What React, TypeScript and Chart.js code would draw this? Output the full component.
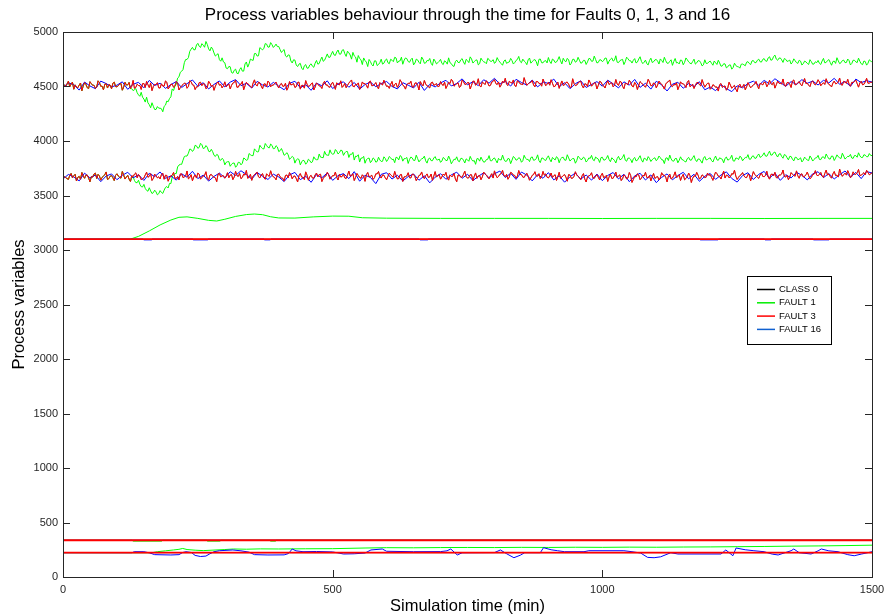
import { useEffect, useRef } from 'react';
import { Chart, registerables } from 'chart.js';

Chart.register(...registerables);

// ---- sampling grids (minutes) ----
// noisy variables are logged every 2.5 min: "main" samples at 0, 5, 10 ... and "half" samples at 2.5, 7.5 ...
const minutes5 = Array.from({ length: 301 }, (_, i) => i * 5);
const minutesHalf = Array.from({ length: 300 }, (_, i) => i * 5 + 2.5);
const minutes10 = Array.from({ length: 151 }, (_, i) => i * 10);

// ---- upper process variable (~4510) ----
const fault3Upper = [
  4530, 4500, 4549, 4523, 4475, 4496, 4513, 4461, 4536, 4489, 4544, 4511, 4483, 4552, 4502, 4470, 4525, 4517, 4479, 4540,
  4497, 4522, 4466, 4538, 4515, 4481, 4556, 4492, 4509, 4473, 4528, 4547, 4490, 4462, 4519, 4535, 4486, 4504, 4551, 4477,
  4520, 4493, 4545, 4468, 4507, 4531, 4484, 4553, 4515, 4472, 4498, 4539, 4526, 4480, 4548, 4501, 4465, 4529, 4512, 4487,
  4543, 4509, 4478, 4532, 4557, 4494, 4521, 4470, 4538, 4516, 4488, 4561, 4505, 4533, 4479, 4524, 4550, 4497, 4512, 4541,
  4486, 4528, 4503, 4466, 4545, 4519, 4491, 4537, 4476, 4511, 4554, 4499, 4524, 4468, 4533, 4507, 4482, 4548, 4515, 4493,
  4539, 4474, 4520, 4552, 4505, 4489, 4531, 4560, 4497, 4516, 4473, 4542, 4527, 4485, 4550, 4509, 4536, 4478, 4523, 4557,
  4501, 4483, 4546, 4519, 4492, 4562, 4512, 4476, 4529, 4548, 4495, 4534, 4468, 4521, 4555, 4506, 4487, 4540, 4517, 4499,
  4545, 4510, 4482, 4538, 4566, 4503, 4527, 4491, 4559, 4520, 4536, 4477, 4548, 4512, 4571, 4496, 4531, 4553, 4505, 4541,
  4563, 4518, 4494, 4549, 4575, 4509, 4537, 4560, 4500, 4543, 4521, 4581, 4512, 4535, 4556, 4497, 4546, 4528, 4568, 4507,
  4539, 4562, 4498, 4525, 4483, 4551, 4516, 4540, 4490, 4571, 4508, 4530, 4549, 4486, 4522, 4560, 4503, 4535, 4478, 4547,
  4515, 4486, 4553, 4529, 4497, 4564, 4510, 4541, 4480, 4526, 4558, 4504, 4537, 4472, 4545, 4519, 4493, 4566, 4507, 4532,
  4488, 4549, 4521, 4476, 4538, 4560, 4499, 4514, 4471, 4543, 4526, 4490, 4555, 4508, 4482, 4535, 4517, 4563, 4494, 4529,
  4475, 4516, 4493, 4458, 4527, 4501, 4466, 4539, 4484, 4510, 4452, 4521, 4497, 4470, 4535, 4488, 4514, 4546, 4479, 4524,
  4540, 4498, 4557, 4516, 4485, 4549, 4528, 4569, 4503, 4537, 4491, 4560, 4522, 4545, 4506, 4573, 4531, 4499, 4552, 4515,
  4562, 4507, 4534, 4571, 4519, 4496, 4550, 4528, 4578, 4512, 4541, 4566, 4503, 4537, 4559, 4494, 4548, 4520, 4575, 4531,
  4539,
];
const fault3UpperHalf = [
  4510, 4523, 4497, 4540, 4515, 4489, 4532, 4506, 4519, 4481, 4527, 4511, 4494, 4536, 4503, 4520, 4486, 4512, 4530, 4499,
  4507, 4528, 4495, 4514, 4537, 4502, 4483, 4521, 4509, 4526, 4491, 4516, 4533, 4500, 4518, 4487, 4525, 4504, 4539, 4496,
  4521, 4505, 4533, 4490, 4517, 4528, 4501, 4544, 4512, 4497, 4535, 4508, 4522, 4489, 4530, 4514, 4503, 4541, 4519, 4506,
  4498, 4524, 4511, 4537, 4493, 4518, 4546, 4507, 4525, 4500, 4532, 4515, 4539, 4504, 4523, 4497, 4536, 4512, 4529, 4509,
  4517, 4502, 4530, 4491, 4514, 4527, 4499, 4540, 4510, 4485, 4521, 4506, 4533, 4495, 4519, 4502, 4528, 4513, 4496, 4524,
  4509, 4534, 4515, 4492, 4528, 4511, 4546, 4502, 4520, 4533, 4497, 4525, 4510, 4542, 4507, 4518, 4501, 4536, 4514, 4527,
  4505, 4520, 4494, 4531, 4513, 4540, 4503, 4517, 4526, 4495, 4530, 4512, 4545, 4506, 4522, 4498, 4534, 4511, 4527, 4502,
  4519, 4540, 4508, 4527, 4551, 4514, 4533, 4503, 4545, 4520, 4535, 4512, 4549, 4524, 4506, 4541, 4518, 4532, 4510, 4547,
  4527, 4542, 4515, 4534, 4520, 4548, 4531, 4509, 4553, 4525, 4517, 4540, 4522, 4537, 4514, 4546, 4528, 4503, 4538, 4521,
  4512, 4530, 4503, 4541, 4519, 4509, 4537, 4521, 4495, 4528, 4513, 4544, 4507, 4525, 4500, 4536, 4518, 4529, 4511, 4541,
  4506, 4526, 4518, 4535, 4511, 4523, 4547, 4502, 4529, 4516, 4538, 4497, 4521, 4512, 4533, 4506, 4524, 4540, 4509, 4527,
  4514, 4530, 4501, 4522, 4545, 4508, 4519, 4534, 4503, 4526, 4512, 4539, 4498, 4521, 4510, 4537, 4505, 4525, 4514, 4531,
  4488, 4509, 4496, 4517, 4492, 4505, 4485, 4512, 4499, 4475, 4506, 4491, 4519, 4497, 4511, 4502, 4522, 4508, 4528, 4515,
  4537, 4519, 4528, 4541, 4516, 4530, 4523, 4509, 4535, 4521, 4550, 4514, 4533, 4520, 4543, 4527, 4512, 4539, 4525, 4532,
  4541, 4524, 4519, 4536, 4512, 4531, 4525, 4543, 4518, 4547, 4529, 4521, 4538, 4545, 4526, 4533, 4516, 4542, 4530, 4539,
];

const fault1Upper = [
  4530, 4500, 4549, 4523, 4475, 4496, 4513, 4461, 4536, 4489, 4544, 4511, 4483, 4552, 4502, 4470, 4525, 4517, 4479, 4540,
  4497, 4522, 4466, 4538, 4515, 4481, 4462, 4481, 4423, 4447, 4385, 4402, 4333, 4351, 4289, 4316, 4301, 4268, 4329, 4360,
  4405, 4463, 4521, 4589, 4640, 4719, 4748, 4822, 4859, 4837, 4896, 4858, 4879, 4913, 4845, 4862, 4808, 4791, 4746, 4763,
  4718, 4663, 4681, 4622, 4659, 4618, 4673, 4641, 4725, 4708, 4744, 4802, 4779, 4857, 4836, 4894, 4861, 4903, 4858, 4889,
  4867, 4812, 4839, 4770, 4787, 4716, 4742, 4683, 4712, 4654, 4701, 4669, 4708, 4676, 4739, 4711, 4770, 4741, 4799, 4768,
  4822, 4785, 4835, 4797, 4838, 4776, 4809, 4751, 4781, 4723, 4757, 4701, 4738, 4683, 4729, 4688, 4735, 4702, 4751, 4714,
  4753, 4709, 4741, 4768, 4716, 4735, 4704, 4762, 4729, 4747, 4698, 4751, 4722, 4770, 4713, 4739, 4757, 4694, 4733, 4718,
  4749, 4701, 4726, 4763, 4710, 4684, 4742, 4719, 4756, 4703, 4737, 4772, 4715, 4741, 4698, 4760, 4727, 4709, 4748, 4731,
  4712, 4765, 4724, 4695, 4744, 4721, 4758, 4706, 4739, 4776, 4718, 4734, 4700, 4761, 4729, 4747, 4690, 4752, 4717, 4738,
  4766, 4711, 4743, 4725, 4774, 4707, 4736, 4758, 4697, 4749, 4723, 4768, 4714, 4740, 4702, 4757, 4731, 4779, 4716, 4745,
  4728, 4761, 4705, 4750, 4733, 4782, 4719, 4744, 4701, 4769, 4737, 4715, 4756, 4724, 4773, 4710, 4742, 4698, 4760, 4727,
  4748, 4706, 4739, 4768, 4714, 4731, 4694, 4757, 4720, 4743, 4699, 4762, 4726, 4708, 4751, 4717, 4736, 4689, 4745, 4712,
  4733, 4695, 4718, 4741, 4686, 4709, 4671, 4697, 4659, 4714, 4683, 4668, 4706, 4690, 4728, 4701, 4738, 4719, 4751, 4724,
  4756, 4731, 4773, 4745, 4788, 4740, 4762, 4721, 4749, 4735, 4706, 4754, 4719, 4741, 4697, 4733, 4712, 4746, 4704, 4727,
  4739, 4702, 4758, 4721, 4747, 4695, 4733, 4764, 4710, 4738, 4719, 4752, 4698, 4741, 4726, 4760, 4708, 4734, 4696, 4745,
  4722,
];
const fault1UpperHalf = [
  4510, 4523, 4497, 4540, 4515, 4489, 4532, 4506, 4519, 4481, 4527, 4511, 4494, 4536, 4503, 4520, 4486, 4512, 4530, 4499,
  4507, 4528, 4495, 4514, 4537, 4480, 4471, 4443, 4410, 4402, 4357, 4350, 4305, 4318, 4289, 4301, 4296, 4318, 4367, 4390,
  4478, 4503, 4577, 4630, 4655, 4748, 4765, 4842, 4837, 4881, 4869, 4893, 4860, 4886, 4827, 4843, 4779, 4801, 4732, 4725,
  4669, 4684, 4628, 4649, 4621, 4655, 4641, 4707, 4678, 4752, 4739, 4803, 4782, 4846, 4851, 4889, 4862, 4884, 4871, 4866,
  4839, 4829, 4781, 4790, 4734, 4745, 4696, 4705, 4669, 4690, 4668, 4697, 4686, 4714, 4705, 4744, 4731, 4769, 4768, 4797,
  4790, 4816, 4797, 4832, 4801, 4824, 4789, 4813, 4770, 4784, 4745, 4762, 4724, 4748, 4701, 4735, 4692, 4719, 4705, 4741,
  4718, 4750, 4728, 4762, 4733, 4769, 4741, 4756, 4722, 4760, 4715, 4744, 4708, 4751, 4716, 4735, 4713, 4752, 4707, 4731,
  4712, 4736, 4705, 4719, 4690, 4728, 4721, 4744, 4725, 4749, 4719, 4753, 4728, 4744, 4710, 4739, 4722, 4758, 4731, 4746,
  4725, 4740, 4709, 4733, 4712, 4725, 4738, 4719, 4748, 4730, 4751, 4722, 4745, 4714, 4741, 4727, 4749, 4718, 4734, 4716,
  4729, 4752, 4720, 4746, 4735, 4759, 4727, 4744, 4713, 4750, 4731, 4741, 4718, 4739, 4726, 4755, 4733, 4748, 4721, 4744,
  4738, 4759, 4733, 4762, 4741, 4723, 4737, 4749, 4728, 4755, 4736, 4741, 4716, 4752, 4730, 4723, 4709, 4738, 4720, 4744,
  4732, 4753, 4720, 4737, 4713, 4745, 4729, 4716, 4707, 4739, 4722, 4746, 4714, 4729, 4705, 4737, 4718, 4699, 4712, 4726,
  4713, 4734, 4702, 4716, 4689, 4707, 4680, 4698, 4674, 4692, 4681, 4704, 4699, 4723, 4711, 4735, 4719, 4741, 4727, 4749,
  4735, 4762, 4741, 4774, 4752, 4760, 4744, 4757, 4730, 4742, 4722, 4736, 4712, 4733, 4709, 4726, 4702, 4728, 4707, 4719,
  4713, 4734, 4717, 4738, 4721, 4729, 4712, 4735, 4718, 4742, 4720, 4737, 4711, 4740, 4719, 4731, 4700, 4729, 4713, 4735,
];

const fault16Upper = [
  4492, 4533, 4518, 4467, 4541, 4505, 4480, 4549, 4527, 4496, 4512, 4543, 4474, 4521, 4538, 4488, 4556, 4509, 4530, 4483,
  4517, 4545, 4491, 4526, 4560, 4502, 4535, 4478, 4519, 4551, 4497, 4540, 4563, 4508, 4529, 4486, 4547, 4514, 4495, 4538,
  4503, 4470, 4529, 4548, 4489, 4516, 4465, 4531, 4506, 4552, 4481, 4524, 4543, 4493, 4537, 4476, 4518, 4540, 4498, 4527,
  4546, 4501, 4478, 4535, 4512, 4487, 4539, 4464, 4520, 4496, 4533, 4557, 4505, 4528, 4570, 4515, 4544, 4508, 4562, 4531,
  4575, 4522, 4548, 4504, 4566, 4537, 4513, 4559, 4496, 4541, 4528, 4568, 4499, 4535, 4480, 4526, 4552, 4491, 4519, 4545,
  4503, 4558, 4524, 4487, 4543, 4512, 4565, 4492, 4530, 4476, 4548, 4515, 4459, 4521, 4539, 4484, 4527, 4498, 4544, 4470,
  4495, 4462, 4517, 4481, 4453, 4506, 4488, 4528, 4549, 4510, 4556, 4523, 4571, 4537, 4502, 4545, 4518, 4563, 4529, 4550,
  4514, 4557, 4533, 4575, 4520, 4546, 4502, 4568, 4536, 4553,
  4541,
];

// ---- middle process variable (~3670) ----
const fault3Middle = [
  3690, 3664, 3648, 3702, 3681, 3633, 3675, 3711, 3658, 3687, 3626, 3669, 3705, 3694, 3641, 3678, 3716, 3655, 3683, 3637,
  3699, 3667, 3720, 3651, 3684, 3629, 3673, 3708, 3692, 3645, 3660, 3714, 3676, 3638, 3696, 3662, 3652, 3705, 3686, 3631,
  3680, 3712, 3657, 3643, 3698, 3671, 3725, 3664, 3635, 3689, 3706, 3650, 3677, 3718, 3642, 3693, 3668, 3627, 3701, 3683,
  3659, 3709, 3687, 3646, 3722, 3675, 3654, 3697, 3730, 3668, 3639, 3690, 3713, 3662, 3700, 3649, 3684, 3727, 3671, 3644,
  3696, 3661, 3632, 3688, 3710, 3653, 3679, 3624, 3701, 3667, 3717, 3640, 3685, 3658, 3706, 3692, 3628, 3674, 3712, 3650,
  3683, 3715, 3642, 3670, 3697, 3656, 3724, 3681, 3637, 3702, 3665, 3690, 3630, 3711, 3676, 3648, 3699, 3720, 3660, 3686,
  3644, 3705, 3678, 3721, 3652, 3690, 3629, 3673, 3709, 3661, 3694, 3636, 3684, 3716, 3655, 3698, 3670, 3639, 3719, 3682,
  3650, 3697, 3712, 3641, 3675, 3703, 3626, 3686, 3668, 3723, 3659, 3691, 3634, 3707, 3679, 3645, 3715, 3688, 3653, 3700,
  3726, 3663, 3695, 3731, 3674, 3649, 3712, 3687, 3658, 3729, 3692, 3666, 3704, 3640, 3685, 3718, 3677, 3655, 3721, 3698,
  3661, 3706, 3682, 3638, 3713, 3670, 3692, 3631, 3687, 3659, 3718, 3675, 3646, 3701, 3624, 3680, 3709, 3657, 3691, 3643,
  3704, 3672, 3629, 3696, 3658, 3715, 3681, 3637, 3690, 3652, 3711, 3620, 3677, 3699, 3645, 3685, 3713, 3663, 3634, 3702,
  3668, 3643, 3709, 3686, 3625, 3697, 3660, 3717, 3673, 3638, 3694, 3656, 3706, 3619, 3681, 3712, 3650, 3689, 3663, 3705,
  3692, 3639, 3715, 3677, 3651, 3724, 3687, 3662, 3701, 3732, 3647, 3683, 3710, 3666, 3694, 3635, 3719, 3680, 3657, 3706,
  3673, 3722, 3650, 3697, 3713, 3661, 3688, 3734, 3669, 3645, 3710, 3684, 3726, 3658, 3699, 3676, 3715, 3654, 3693, 3728,
  3681, 3711, 3666, 3733, 3698, 3659, 3720, 3687, 3742, 3676, 3705, 3728, 3663, 3717, 3694, 3739, 3685, 3709, 3731, 3690,
  3712,
];
const fault3MiddleHalf = [
  3670, 3655, 3683, 3662, 3694, 3667, 3650, 3679, 3688, 3661, 3673, 3697, 3656, 3680, 3666, 3690, 3647, 3677, 3664, 3685,
  3678, 3659, 3687, 3670, 3651, 3682, 3696, 3663, 3676, 3653, 3689, 3668, 3700, 3657, 3681, 3672, 3692, 3649, 3684, 3661,
  3686, 3658, 3675, 3698, 3664, 3680, 3653, 3691, 3671, 3660, 3695, 3667, 3684, 3654, 3688, 3676, 3662, 3697, 3669, 3681,
  3677, 3663, 3692, 3670, 3683, 3702, 3666, 3687, 3658, 3694, 3679, 3705, 3671, 3690, 3662, 3699, 3676, 3688, 3665, 3693,
  3672, 3658, 3684, 3663, 3691, 3677, 3655, 3682, 3669, 3646, 3686, 3674, 3660, 3689, 3671, 3695, 3657, 3680, 3692, 3666,
  3681, 3668, 3693, 3674, 3661, 3687, 3679, 3700, 3666, 3684, 3658, 3677, 3691, 3670, 3686, 3663, 3698, 3675, 3689, 3662,
  3676, 3690, 3667, 3684, 3655, 3693, 3671, 3680, 3663, 3696, 3674, 3659, 3688, 3670, 3682, 3664, 3697, 3678, 3669, 3691,
  3670, 3684, 3661, 3689, 3676, 3652, 3687, 3668, 3694, 3673, 3664, 3690, 3677, 3657, 3685, 3671, 3699, 3667, 3682, 3660,
  3688, 3675, 3701, 3682, 3694, 3670, 3705, 3684, 3678, 3693, 3669, 3688, 3675, 3661, 3692, 3680, 3700, 3673, 3686, 3668,
  3679, 3665, 3690, 3672, 3658, 3683, 3669, 3692, 3657, 3676, 3688, 3664, 3681, 3650, 3671, 3686, 3662, 3678, 3667, 3684,
  3663, 3685, 3670, 3657, 3682, 3666, 3689, 3654, 3677, 3661, 3684, 3647, 3670, 3688, 3659, 3679, 3665, 3683, 3671, 3656,
  3674, 3661, 3687, 3669, 3679, 3652, 3683, 3666, 3690, 3673, 3644, 3671, 3682, 3658, 3677, 3686, 3663, 3680, 3668, 3685,
  3666, 3681, 3700, 3674, 3689, 3660, 3684, 3672, 3695, 3678, 3667, 3691, 3681, 3664, 3688, 3676, 3694, 3669, 3687, 3675,
  3683, 3670, 3692, 3679, 3664, 3688, 3697, 3675, 3686, 3668, 3694, 3677, 3680, 3693, 3671, 3690, 3682, 3665, 3695, 3687,
  3695, 3679, 3702, 3688, 3674, 3698, 3683, 3669, 3704, 3692, 3687, 3700, 3676, 3695, 3708, 3684, 3699, 3690, 3712, 3697,
];

const fault1Middle = [
  3690, 3664, 3648, 3702, 3681, 3633, 3675, 3711, 3658, 3687, 3626, 3669, 3705, 3694, 3641, 3678, 3716, 3655, 3683, 3637,
  3699, 3667, 3720, 3651, 3684, 3629, 3672, 3618, 3640, 3581, 3602, 3547, 3571, 3518, 3549, 3506, 3545, 3519, 3574, 3569,
  3609, 3688, 3701, 3779, 3786, 3858, 3862, 3926, 3904, 3961, 3933, 3979, 3931, 3958, 3906, 3924, 3869, 3877, 3828, 3841,
  3781, 3810, 3768, 3797, 3759, 3805, 3781, 3844, 3822, 3885, 3866, 3928, 3899, 3961, 3930, 3977, 3941, 3972, 3929, 3957,
  3903, 3931, 3869, 3893, 3831, 3858, 3797, 3836, 3781, 3824, 3787, 3833, 3801, 3855, 3828, 3881, 3849, 3905, 3870, 3919,
  3879, 3922, 3881, 3916, 3868, 3904, 3849, 3877, 3825, 3858, 3807, 3843, 3796, 3839, 3801, 3845, 3806, 3851, 3812, 3855,
  3812, 3858, 3829, 3801, 3847, 3866, 3815, 3839, 3794, 3853, 3822, 3870, 3808, 3836, 3861, 3797, 3844, 3819, 3857, 3826,
  3804, 3849, 3820, 3862, 3791, 3833, 3855, 3810, 3841, 3798, 3827, 3859, 3815, 3786, 3838, 3852, 3806, 3830, 3866, 3818,
  3845, 3799, 3828, 3871, 3813, 3840, 3792, 3858, 3824, 3847, 3805, 3869, 3831, 3811, 3854, 3826, 3873, 3802, 3843, 3821,
  3864, 3809, 3837, 3856, 3800, 3848, 3825, 3874, 3816, 3839, 3796, 3861, 3830, 3852, 3807, 3845, 3868, 3819, 3842, 3803,
  3851, 3826, 3867, 3810, 3835, 3798, 3859, 3832, 3876, 3814, 3843, 3801, 3849, 3823, 3865, 3806, 3838, 3857, 3812, 3840,
  3819, 3862, 3828, 3793, 3846, 3871, 3817, 3839, 3800, 3855, 3827, 3808, 3850, 3824, 3866, 3811, 3835, 3797, 3858, 3830,
  3845, 3807, 3862, 3823, 3838, 3800, 3853, 3829, 3869, 3815, 3842, 3860, 3818, 3848, 3875, 3833, 3864, 3842, 3881, 3856,
  3892, 3860, 3907, 3872, 3899, 3853, 3884, 3842, 3869, 3827, 3858, 3817, 3849, 3834, 3808, 3852, 3825, 3863, 3816, 3845,
  3868, 3829, 3855, 3881, 3837, 3862, 3821, 3873, 3846, 3888, 3834, 3859, 3877, 3840, 3866, 3892, 3849, 3874, 3856, 3885,
  3866,
];
const fault1MiddleHalf = [
  3670, 3655, 3683, 3662, 3694, 3667, 3650, 3679, 3688, 3661, 3673, 3697, 3656, 3680, 3666, 3690, 3647, 3677, 3664, 3685,
  3678, 3659, 3687, 3670, 3651, 3660, 3638, 3618, 3603, 3578, 3565, 3539, 3542, 3526, 3533, 3517, 3528, 3549, 3582, 3611,
  3671, 3702, 3762, 3786, 3824, 3862, 3888, 3923, 3920, 3955, 3941, 3966, 3935, 3943, 3901, 3902, 3858, 3869, 3823, 3829,
  3804, 3811, 3786, 3798, 3774, 3803, 3796, 3837, 3829, 3874, 3866, 3913, 3902, 3942, 3927, 3959, 3937, 3960, 3931, 3945,
  3911, 3902, 3877, 3873, 3846, 3849, 3826, 3831, 3808, 3818, 3802, 3821, 3809, 3835, 3829, 3852, 3847, 3875, 3868, 3888,
  3883, 3907, 3893, 3912, 3891, 3903, 3879, 3896, 3861, 3874, 3843, 3859, 3829, 3844, 3817, 3834, 3812, 3826, 3814, 3840,
  3830, 3846, 3833, 3851, 3826, 3857, 3838, 3849, 3831, 3845, 3822, 3839, 3825, 3842, 3818, 3836, 3820, 3844, 3828, 3835,
  3817, 3839, 3822, 3834, 3812, 3829, 3818, 3840, 3824, 3836, 3814, 3831, 3821, 3838, 3815, 3827, 3809, 3832, 3819, 3837,
  3822, 3841, 3826, 3833, 3815, 3836, 3824, 3847, 3829, 3840, 3818, 3842, 3831, 3848, 3823, 3839, 3820, 3843, 3827, 3846,
  3831, 3849, 3826, 3844, 3836, 3851, 3823, 3845, 3830, 3838, 3819, 3847, 3832, 3842, 3821, 3840, 3829, 3853, 3834, 3848,
  3825, 3841, 3830, 3846, 3822, 3839, 3828, 3850, 3824, 3843, 3831, 3837, 3818, 3845, 3827, 3842, 3820, 3839, 3829, 3846,
  3833, 3848, 3826, 3842, 3821, 3836, 3815, 3840, 3823, 3829, 3812, 3838, 3825, 3847, 3828, 3835, 3817, 3843, 3826, 3841,
  3820, 3838, 3827, 3846, 3832, 3841, 3825, 3843, 3818, 3844, 3829, 3851, 3836, 3847, 3833, 3858, 3842, 3866, 3850, 3871,
  3862, 3884, 3870, 3893, 3872, 3880, 3858, 3876, 3847, 3859, 3833, 3851, 3828, 3846, 3823, 3838, 3820, 3844, 3829, 3847,
  3831, 3852, 3838, 3857, 3834, 3860, 3843, 3855, 3839, 3862, 3847, 3858, 3844, 3867, 3851, 3864, 3848, 3870, 3856, 3868,
];

const fault16Middle = [
  3652, 3693, 3671, 3634, 3705, 3660, 3688, 3627, 3679, 3698, 3645, 3685, 3713, 3662, 3690, 3638, 3704, 3673, 3716, 3657,
  3680, 3641, 3699, 3668, 3722, 3655, 3687, 3632, 3675, 3706, 3661, 3718, 3684, 3727, 3693, 3650, 3711, 3676, 3647, 3696,
  3670, 3628, 3689, 3712, 3645, 3678, 3621, 3692, 3663, 3707, 3639, 3682, 3701, 3655, 3719, 3631, 3686, 3666, 3609, 3694,
  3709, 3651, 3686, 3633, 3674, 3697, 3640, 3681, 3616, 3668, 3700, 3649, 3689, 3714, 3658, 3695, 3637, 3676, 3708, 3662,
  3699, 3724, 3665, 3703, 3648, 3715, 3687, 3634, 3692, 3658, 3710, 3643, 3681, 3622, 3672, 3706, 3650, 3688, 3641, 3697,
  3636, 3684, 3711, 3652, 3695, 3627, 3679, 3704, 3642, 3689, 3618, 3666, 3698, 3644, 3683, 3713, 3653, 3695, 3630, 3677,
  3702, 3648, 3688, 3717, 3656, 3623, 3683, 3709, 3647, 3694, 3721, 3659, 3705, 3639, 3691, 3661, 3712, 3686, 3643, 3699,
  3718, 3664, 3701, 3652, 3690, 3725, 3668, 3712, 3655, 3720,
  3706,
];

// ---- steady variable (~3100) ----
const steadyTimes = [0, 1500];
const fault3Steady = [3100, 3100];
const fault16SteadyTimes = [0, 148, 150, 164, 166, 240, 242, 268, 270, 372, 374, 384, 386, 660, 662, 676, 678, 1180, 1182, 1214, 1216, 1300, 1302, 1312, 1314, 1390, 1392, 1420, 1422, 1500];
const fault16Steady = [3100, 3100, 3093, 3093, 3100, 3100, 3093, 3093, 3100, 3100, 3093, 3093, 3100, 3100, 3093, 3093, 3100, 3100, 3093, 3093, 3100, 3100, 3093, 3093, 3100, 3100, 3093, 3093, 3100, 3100];
const fault1SteadyTimes = [0, 125, 140, 160, 180, 200, 215, 230, 250, 270, 285, 300, 320, 340, 355, 370, 385, 400, 430, 465, 500, 530, 555, 600, 700, 800, 900, 1000, 1100, 1200, 1300, 1400, 1500];
const fault1Steady = [3100, 3100, 3125, 3175, 3230, 3275, 3300, 3304, 3290, 3272, 3266, 3282, 3308, 3325, 3330, 3324, 3305, 3294, 3293, 3304, 3311, 3310, 3296, 3292, 3290, 3290, 3290, 3289, 3290, 3290, 3289, 3290, 3290];

// ---- low variable (~337) ----
const lowTimes = [0, 1500];
const fault3Low = [337, 337];
const fault16Low = [337, 337];
const fault1LowTimes = [0, 128, 130, 183, 185, 266, 268, 291, 293, 383, 385, 394, 396, 1500];
const fault1Low = [337, 337, 329, 329, 337, 337, 329, 329, 337, 337, 329, 329, 337, 337];

// ---- bottom variable (~223) ----
const bottomTimes = [0, 1500];
const fault3Bottom = [223, 223];
const fault1BottomTimes = [0, 165, 175, 190, 205, 215, 222, 230, 245, 260, 280, 300, 316, 340, 366, 400, 450, 500, 560, 600, 650, 700, 750, 800, 850, 900, 950, 1000, 1050, 1100, 1150, 1200, 1250, 1300, 1350, 1400, 1450, 1500];
const fault1Bottom = [223, 223, 232, 240, 248, 254, 262, 252, 246, 242, 247, 252, 257, 255, 258, 257, 259, 260, 266, 269, 268, 270, 271, 270, 272, 271, 273, 272, 274, 273, 275, 276, 278, 280, 283, 285, 288, 292];
const fault16BottomTimes = [0, 128, 132, 150, 160, 170, 200, 215, 222, 228, 238, 245, 255, 265, 272, 280, 290, 315, 330, 345, 355, 380, 410, 418, 425, 432, 445, 470, 500, 509, 520, 540, 560, 571, 592, 600, 650, 700, 712, 719, 731, 740, 800, 811, 822, 836, 848, 856, 885, 891, 905, 917, 930, 966, 975, 1040, 1055, 1071, 1084, 1096, 1108, 1127, 1140, 1220, 1229, 1242, 1248, 1265, 1281, 1300, 1315, 1326, 1340, 1350, 1355, 1365, 1387, 1400, 1406, 1420, 1437, 1455, 1467, 1480, 1500];
const fault16Bottom = [223, 223, 232, 232, 222, 205, 202, 205, 225, 232, 225, 198, 188, 192, 212, 232, 241, 248, 240, 228, 205, 202, 203, 215, 257, 240, 232, 234, 230, 222, 211, 213, 220, 248, 257, 236, 232, 233, 240, 257, 202, 222, 224, 248, 215, 177, 200, 223, 223, 269, 250, 241, 232, 232, 241, 241, 232, 220, 180, 177, 185, 223, 211, 211, 248, 195, 266, 250, 241, 232, 210, 202, 225, 241, 257, 223, 211, 240, 257, 240, 232, 205, 195, 210, 232];

// Normal operation coincides with fault 3 on every plotted variable.
const class0Upper = fault3Upper;
const class0UpperHalf = fault3UpperHalf;
const class0Middle = fault3Middle;
const class0MiddleHalf = fault3MiddleHalf;
const class0Steady = fault3Steady;
const class0Low = fault3Low;
const class0Bottom = fault3Bottom;

// ---- axes ----
const xTicks = [0, 500, 1000, 1500];
const yTicks = [0, 500, 1000, 1500, 2000, 2500, 3000, 3500, 4000, 4500, 5000];

const legendLabels = ['CLASS 0', 'FAULT 1', 'FAULT 3', 'FAULT 16'];
const classColors = ['#000000', '#00ff00', '#ff0000', '#0000ff'];
const legendColors = ['#000000', '#00ee00', '#ff0000', '#1060d0'];

const FONT = "Arial, 'Liberation Sans', Helvetica, sans-serif";

type P = { x: number; y: number };
const pts = (times: number[], values: number[]): P[] => times.map((t, i) => ({ x: t, y: values[i] }));
// merge the 5-min samples with the in-between 2.5-min samples
const merged = (main: number[], half: number[]): P[] => {
  const out: P[] = [];
  main.forEach((v, i) => {
    out.push({ x: minutes5[i], y: v });
    if (i < half.length) out.push({ x: minutesHalf[i], y: half[i] });
  });
  return out;
};

function makeDatasets() {
  // order: higher numbers are painted first (underneath)
  const groups: { cls: number; order: number; width: number; series: P[][] }[] = [
    { cls: 0, order: 3, width: 0.5, series: [merged(class0Upper, class0UpperHalf), merged(class0Middle, class0MiddleHalf), pts(steadyTimes, class0Steady), pts(lowTimes, class0Low), pts(bottomTimes, class0Bottom)] },
    { cls: 1, order: 2, width: 1, series: [merged(fault1Upper, fault1UpperHalf), merged(fault1Middle, fault1MiddleHalf), pts(fault1SteadyTimes, fault1Steady), pts(fault1LowTimes, fault1Low), pts(fault1BottomTimes, fault1Bottom)] },
    { cls: 3, order: 1, width: 1, series: [pts(minutes10, fault16Upper), pts(minutes10, fault16Middle), pts(fault16SteadyTimes, fault16Steady), pts(lowTimes, fault16Low), pts(fault16BottomTimes, fault16Bottom)] },
    { cls: 2, order: 0, width: 1, series: [merged(fault3Upper, fault3UpperHalf), merged(fault3Middle, fault3MiddleHalf), pts(steadyTimes, fault3Steady), pts(lowTimes, fault3Low), pts(bottomTimes, fault3Bottom)] },
  ];
  const out: any[] = [];
  groups.forEach((g) => {
    g.series.forEach((data, k) => {
      const flat = data.length <= 2;
      out.push({
        label: `${legendLabels[g.cls]} ${k}`,
        data,
        borderColor: classColors[g.cls],
        borderWidth: flat && g.cls === 2 ? 1.8 : g.width,
        pointRadius: 0,
        tension: 0,
        fill: false,
        order: g.order,
        borderJoinStyle: 'round',
      });
    });
  });
  return out;
}

const decorations = {
  id: 'matlabFrame',
  afterDraw(chart: any) {
    const { ctx, chartArea, scales } = chart;
    const { left, right, top, bottom } = chartArea;
    const xs = scales.x;
    const ys = scales.y;
    ctx.save();
    ctx.strokeStyle = '#262626';
    ctx.lineWidth = 1;
    ctx.strokeRect(Math.round(left) + 0.5, Math.round(top) + 0.5, Math.round(right - left), Math.round(bottom - top));
    const tl = 7;
    ctx.beginPath();
    xTicks.forEach((v) => {
      const px = Math.round(xs.getPixelForValue(v)) + 0.5;
      ctx.moveTo(px, bottom);
      ctx.lineTo(px, bottom - tl);
      ctx.moveTo(px, top);
      ctx.lineTo(px, top + tl);
    });
    yTicks.forEach((v) => {
      const py = Math.round(ys.getPixelForValue(v)) + 0.5;
      ctx.moveTo(left, py);
      ctx.lineTo(left + tl, py);
      ctx.moveTo(right, py);
      ctx.lineTo(right - tl, py);
    });
    ctx.stroke();

    // titles
    const cx = (left + right) / 2;
    ctx.fillStyle = '#000';
    ctx.textAlign = 'center';
    ctx.textBaseline = 'middle';
    ctx.font = `17px ${FONT}`;
    ctx.fillText('Process variables behaviour through the time for Faults 0, 1, 3 and 16', cx, 15);
    ctx.font = `16.5px ${FONT}`;
    ctx.fillText('Simulation time (min)', cx, 606);
    ctx.save();
    ctx.translate(19, (top + bottom) / 2);
    ctx.rotate(-Math.PI / 2);
    ctx.fillText('Process variables', 0, 0);
    ctx.restore();

    // legend box
    const bx = 747.5, by = 276.5, bw = 84, bh = 68;
    ctx.fillStyle = '#fff';
    ctx.fillRect(bx, by, bw, bh);
    ctx.strokeStyle = '#000';
    ctx.lineWidth = 1;
    ctx.strokeRect(bx, by, bw, bh);
    ctx.font = `9.5px ${FONT}`;
    ctx.textAlign = 'left';
    ctx.textBaseline = 'middle';
    legendLabels.forEach((lab, i) => {
      const ly = 289.5 + i * 13.3;
      ctx.strokeStyle = legendColors[i];
      ctx.lineWidth = 1.5;
      ctx.beginPath();
      ctx.moveTo(757, ly);
      ctx.lineTo(775, ly);
      ctx.stroke();
      ctx.fillStyle = '#000';
      ctx.fillText(lab, 779, ly);
    });
    ctx.restore();
  },
};

export default function App() {
  const ref = useRef<HTMLCanvasElement>(null);
  useEffect(() => {
    document.body.style.margin = '0';
    const chart = new Chart(ref.current as HTMLCanvasElement, {
      type: 'line',
      data: { datasets: makeDatasets() },
      options: {
        responsive: false,
        animation: false,
        devicePixelRatio: 1,
        parsing: false as any,
        normalized: true,
        layout: { padding: { top: 32, right: 13, left: 0, bottom: 0 } },
        plugins: { legend: { display: false }, tooltip: { enabled: false }, title: { display: false } },
        scales: {
          x: {
            type: 'linear',
            min: 0,
            max: 1500,
            afterFit: (s: any) => { s.height = 39; s.paddingLeft = 0; s.paddingRight = 0; },
            afterBuildTicks: (s: any) => { s.ticks = xTicks.map((v) => ({ value: v })); },
            grid: { display: false, drawTicks: false },
            border: { display: false },
            ticks: { color: '#262626', font: { family: FONT, size: 11 }, padding: 6, maxRotation: 0, callback: (v: any) => String(v) },
          },
          y: {
            type: 'linear',
            min: 0,
            max: 5000,
            afterFit: (s: any) => { s.width = 63; s.paddingTop = 0; s.paddingBottom = 0; },
            afterBuildTicks: (s: any) => { s.ticks = yTicks.map((v) => ({ value: v })); },
            grid: { display: false, drawTicks: false },
            border: { display: false },
            ticks: { color: '#262626', font: { family: FONT, size: 11 }, padding: 5, callback: (v: any) => String(v) },
          },
        },
      },
      plugins: [decorations],
    });
    return () => chart.destroy();
  }, []);
  return (
    <div style={{ width: 885, height: 616, background: '#fff' }}>
      <canvas ref={ref} width={885} height={616} style={{ display: 'block' }} />
    </div>
  );
}
